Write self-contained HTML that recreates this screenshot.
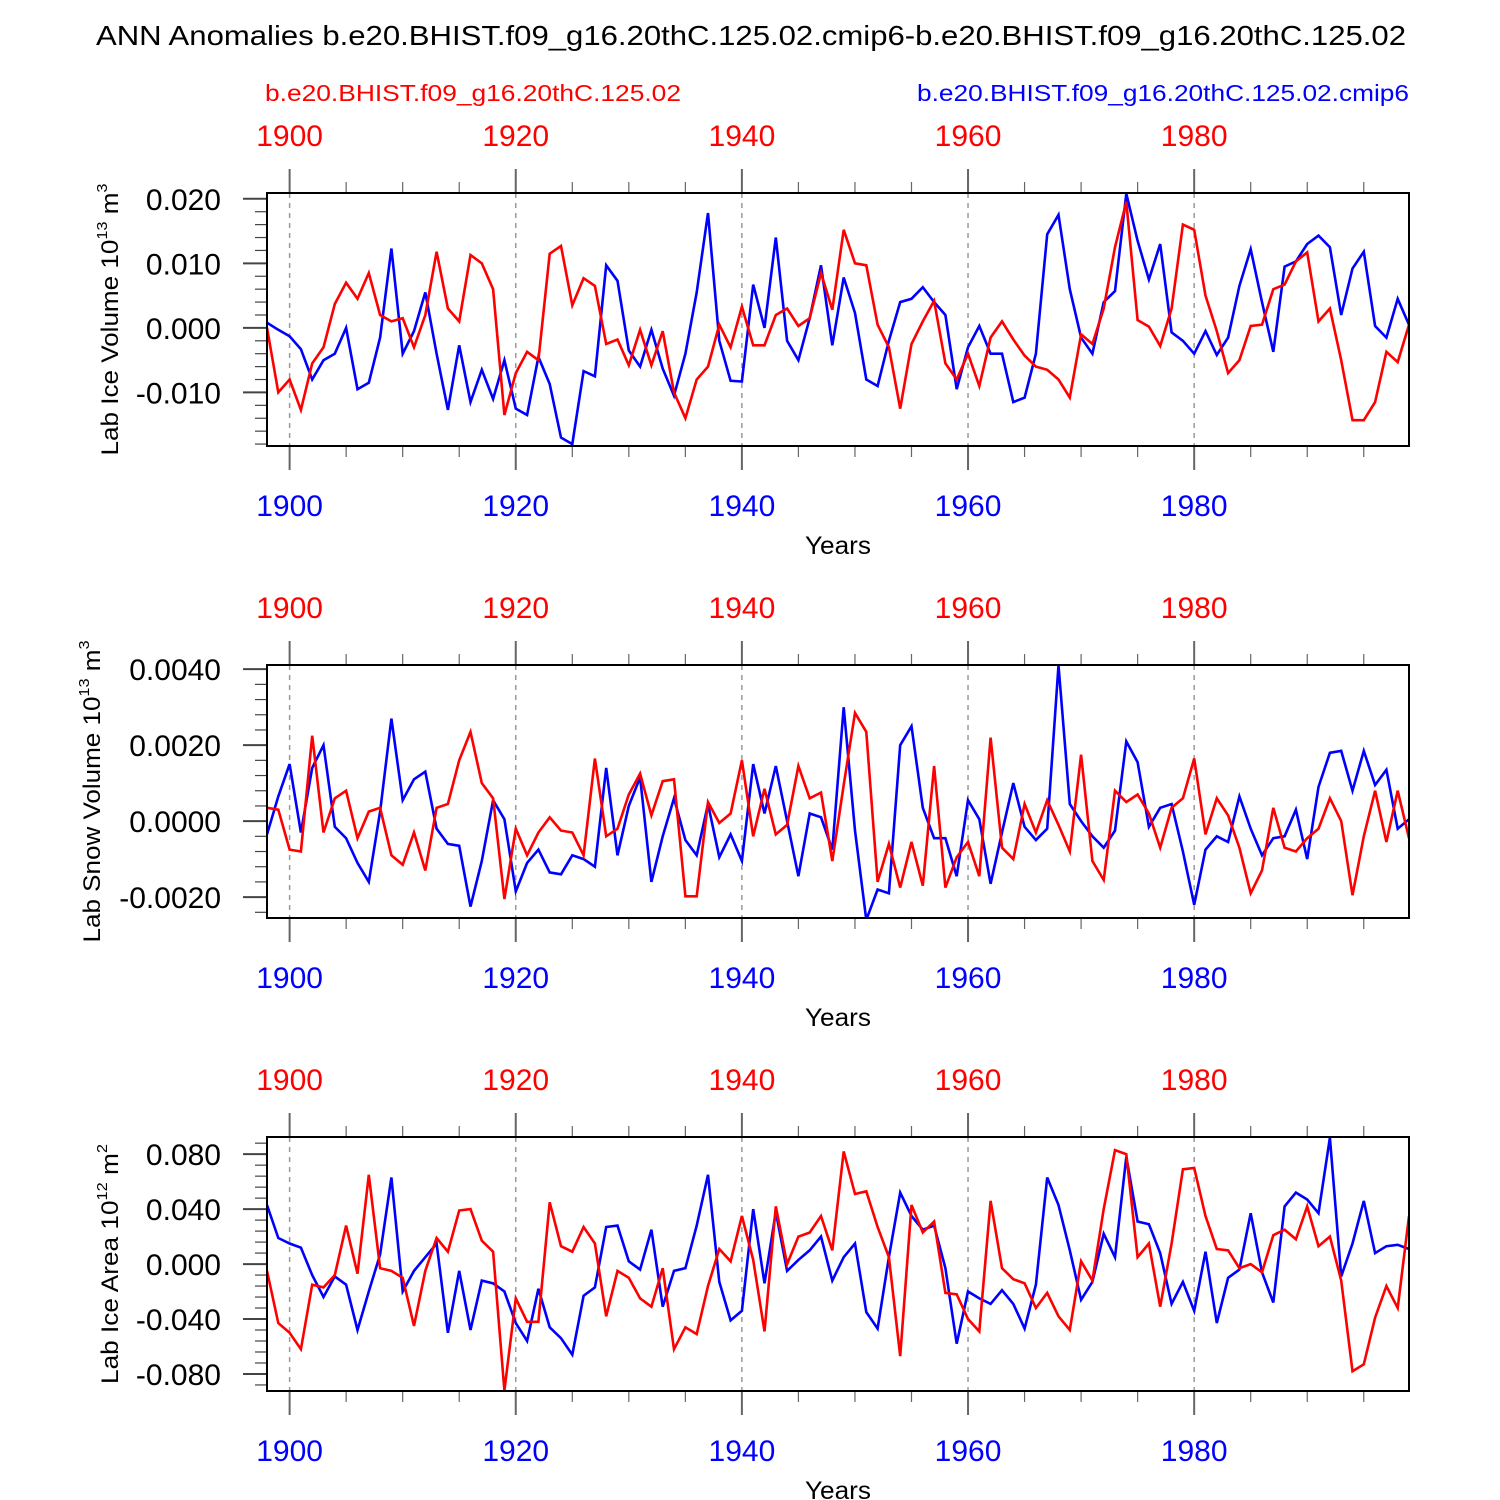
<!DOCTYPE html>
<html><head><meta charset="utf-8"><style>
html,body{margin:0;padding:0;background:#fff;}
svg{display:block;font-family:"Liberation Sans",Arial,sans-serif;}
</style></head><body>
<svg id="chart" width="1500" height="1500" viewBox="0 0 1500 1500" xmlns="http://www.w3.org/2000/svg">
<text x="96" y="45" font-size="28" textLength="1310" lengthAdjust="spacingAndGlyphs">ANN Anomalies b.e20.BHIST.f09_g16.20thC.125.02.cmip6-b.e20.BHIST.f09_g16.20thC.125.02</text>
<text x="265" y="101" font-size="23" fill="#ff0000" textLength="416" lengthAdjust="spacingAndGlyphs">b.e20.BHIST.f09_g16.20thC.125.02</text>
<text x="917" y="101" font-size="23" fill="#0000ff" textLength="492" lengthAdjust="spacingAndGlyphs">b.e20.BHIST.f09_g16.20thC.125.02.cmip6</text>
</svg>
<script>
const startYear = 1898;
const xTickYears = [1900, 1920, 1940, 1960, 1980];

const iceVolRed = [0.000,-0.010,-0.008,-0.0127,-0.0055,-0.003,0.0037,0.007,0.0045,0.0085,0.002,0.001,0.0015,-0.003,0.002,0.0118,0.003,0.001,0.0113,0.010,0.006,-0.0135,-0.007,-0.0037,-0.005,0.0115,0.0127,0.0035,0.0077,0.0065,-0.0025,-0.0018,-0.0058,-0.0003,-0.0058,-0.0005,-0.010,-0.014,-0.008,-0.006,0.0005,-0.003,0.0033,-0.0027,-0.0027,0.002,0.003,0.0003,0.0015,0.0085,0.0028,0.0152,0.010,0.0097,0.0005,-0.003,-0.0125,-0.0025,0.001,0.0042,-0.0055,-0.008,-0.004,-0.009,-0.0015,0.001,-0.0018,-0.0043,-0.006,-0.0065,-0.008,-0.0108,-0.001,-0.0025,0.003,0.0125,0.0195,0.0012,0.0002,-0.0028,0.003,0.016,0.0152,0.005,-0.0005,-0.007,-0.005,0.0003,0.0005,0.006,0.0067,0.0103,0.0117,0.001,0.003,-0.005,-0.0143,-0.0143,-0.0115,-0.0037,-0.0053,0.0005];
const iceVolBlue = [0.0008,-0.0003,-0.0013,-0.0033,-0.008,-0.005,-0.004,0.0,-0.0095,-0.0085,-0.0015,0.0123,-0.004,-0.0005,0.0055,-0.004,-0.0127,-0.0027,-0.0115,-0.0065,-0.011,-0.005,-0.0125,-0.0135,-0.0045,-0.0087,-0.017,-0.018,-0.0067,-0.0075,0.0097,0.0073,-0.0035,-0.006,-0.0003,-0.0063,-0.0105,-0.004,0.0055,0.0178,-0.002,-0.0082,-0.0083,0.0067,0.0,0.014,-0.002,-0.005,0.0015,0.0097,-0.0027,0.0078,0.0023,-0.008,-0.009,-0.002,0.004,0.0045,0.0063,0.004,0.002,-0.0095,-0.003,0.0003,-0.004,-0.004,-0.0115,-0.0108,-0.004,0.0145,0.0175,0.006,-0.0015,-0.004,0.004,0.0057,0.0208,0.0135,0.0075,0.013,-0.0007,-0.002,-0.004,-0.0005,-0.0042,-0.0015,0.0065,0.0122,0.004,-0.0037,0.0095,0.0103,0.013,0.0143,0.0125,0.002,0.0092,0.0118,0.0003,-0.0015,0.0045,0.0005];

const snowRedK = [0.35,0.3,-0.75,-0.8,2.25,-0.3,0.6,0.8,-0.45,0.25,0.35,-0.9,-1.15,-0.3,-1.3,0.35,0.45,1.6,2.35,1.0,0.6,-2.05,-0.2,-0.9,-0.3,0.1,-0.25,-0.3,-0.9,1.65,-0.4,-0.2,0.7,1.25,0.15,1.05,1.1,-1.98,-1.98,0.5,-0.05,0.2,1.6,-0.4,0.85,-0.35,-0.1,1.45,0.6,0.75,-1.05,0.95,2.85,2.35,-1.6,-0.6,-1.75,-0.55,-1.7,1.45,-1.75,-0.95,-0.55,-1.45,2.2,-0.7,-1.0,0.45,-0.3,0.55,-0.1,-0.8,1.75,-1.05,-1.55,0.8,0.5,0.7,0.2,-0.7,0.35,0.6,1.65,-0.35,0.6,0.15,-0.7,-1.9,-1.3,0.35,-0.7,-0.8,-0.45,-0.2,0.6,0.0,-1.95,-0.4,0.8,-0.55,0.8,-0.45];
const snowBlueK = [-0.35,0.65,1.5,-0.3,1.4,2.0,-0.15,-0.45,-1.1,-1.6,0.25,2.7,0.55,1.1,1.3,-0.2,-0.6,-0.65,-2.25,-1.05,0.55,0.05,-1.85,-1.1,-0.75,-1.35,-1.4,-0.9,-1.0,-1.2,1.4,-0.9,0.4,1.15,-1.6,-0.4,0.6,-0.5,-0.9,0.45,-0.95,-0.35,-1.05,1.5,0.2,1.45,0.0,-1.45,0.2,0.1,-0.75,3.0,-0.25,-2.6,-1.8,-1.9,2.0,2.5,0.35,-0.45,-0.45,-1.45,0.55,0.05,-1.65,-0.3,1.0,-0.15,-0.5,-0.2,4.1,0.45,0.0,-0.4,-0.7,-0.25,2.1,1.55,-0.15,0.35,0.45,-0.8,-2.2,-0.75,-0.4,-0.55,0.65,-0.2,-0.9,-0.45,-0.4,0.3,-1.0,0.9,1.8,1.85,0.8,1.85,0.95,1.35,-0.2,0.05];

const areaRed = [-0.005,-0.043,-0.05,-0.062,-0.015,-0.017,-0.008,0.028,-0.007,0.065,-0.003,-0.005,-0.01,-0.045,-0.005,0.019,0.009,0.039,0.04,0.017,0.009,-0.092,-0.025,-0.042,-0.042,0.045,0.013,0.009,0.027,0.015,-0.038,-0.005,-0.01,-0.025,-0.031,-0.003,-0.062,-0.046,-0.051,-0.016,0.011,0.002,0.035,0.003,-0.049,0.042,0.0,0.02,0.023,0.035,0.01,0.082,0.051,0.053,0.027,0.005,-0.067,0.043,0.023,0.031,-0.021,-0.022,-0.04,-0.049,0.046,-0.003,-0.011,-0.014,-0.032,-0.021,-0.038,-0.048,0.002,-0.012,0.04,0.083,0.08,0.005,0.015,-0.031,0.015,0.069,0.07,0.035,0.011,0.01,-0.003,0.0,-0.006,0.021,0.025,0.018,0.042,0.013,0.02,-0.012,-0.078,-0.073,-0.039,-0.016,-0.032,0.035];
const areaBlue = [0.043,0.019,0.015,0.012,-0.008,-0.024,-0.009,-0.015,-0.048,-0.02,0.007,0.063,-0.02,-0.005,0.005,0.015,-0.05,-0.005,-0.048,-0.012,-0.014,-0.02,-0.043,-0.056,-0.018,-0.046,-0.054,-0.066,-0.023,-0.017,0.027,0.028,0.002,-0.004,0.025,-0.031,-0.005,-0.003,0.028,0.065,-0.013,-0.041,-0.034,0.04,-0.014,0.038,-0.005,0.003,0.01,0.02,-0.012,0.005,0.015,-0.035,-0.047,0.005,0.052,0.035,0.025,0.028,-0.003,-0.058,-0.02,-0.025,-0.029,-0.019,-0.029,-0.047,-0.015,0.063,0.043,0.01,-0.026,-0.013,0.022,0.005,0.078,0.031,0.029,0.008,-0.029,-0.013,-0.034,0.009,-0.043,-0.01,-0.004,0.037,-0.006,-0.028,0.042,0.052,0.047,0.037,0.092,-0.009,0.015,0.046,0.008,0.013,0.014,0.011];

const iceTicks = ["0.020","0.010","0.000","-0.010"];
const snowTicks = ["0.0040","0.0020","0.0000","-0.0020"];
const areaTicks = ["0.080","0.040","0.000","-0.040","-0.080"];

const NS = "http://www.w3.org/2000/svg";
const svg = document.getElementById("chart");
function mk(tag, attrs, parent) {
  const e = document.createElementNS(NS, tag);
  for (const k in attrs) e.setAttribute(k, attrs[k]);
  (parent || svg).appendChild(e);
  return e;
}
const X0 = 267, X1 = 1409, Y_START = 1898, Y_END = 1999;
function xScale(yr) { return X0 + (yr - Y_START) * (X1 - X0) / (Y_END - Y_START); }

const panels = [
  {name:"ice-volume", top:193, bot:446, vmax:0.0209, vmin:-0.0183, ticks:iceTicks, minor:0.002, scale:1, red:iceVolRed, blue:iceVolBlue,
   title:["Lab Ice Volume 10","13"," m","3"], tx:118, tlen:272},
  {name:"snow-volume", top:665, bot:918, vmax:0.00411, vmin:-0.00255, ticks:snowTicks, minor:0.0004, scale:0.001, red:snowRedK, blue:snowBlueK,
   title:["Lab Snow Volume 10","13"," m","3"], tx:100, tlen:302},
  {name:"ice-area", top:1137, bot:1391, vmax:0.0925, vmin:-0.0924, ticks:areaTicks, minor:0.008, scale:1, red:areaRed, blue:areaBlue,
   title:["Lab Ice Area 10","12"," m","2"], tx:118, tlen:240}
];

panels.forEach(p => {
  const g = mk("g", {});
  
  
  const yScale = v => p.top + (p.vmax - v) * (p.bot - p.top) / (p.vmax - p.vmin);
  xTickYears.forEach(yr => {
    const l = mk("line", {x1:xScale(yr), x2:xScale(yr), y1:p.top, y2:p.bot, stroke:"#999", "stroke-width":1.5, "stroke-dasharray":"5,5"}, g);
    
    
  });
  for (let yr = 1900; yr <= 1995; yr += 5) {
    const major = yr % 20 === 0;
    const len = major ? 24 : 11;
    mk("line", {x1:xScale(yr), x2:xScale(yr), y1:p.top - len, y2:p.top, stroke:"#666", "stroke-width": major?2:1.2}, g);
    mk("line", {x1:xScale(yr), x2:xScale(yr), y1:p.bot, y2:p.bot + len, stroke:"#666", "stroke-width": major?2:1.2}, g);
  }
  xTickYears.forEach(yr => {
    const t1 = mk("text", {x:xScale(yr), y:p.top - 47, "text-anchor":"middle", "font-size":30, fill:"#ff0000"}, g);
    t1.textContent = yr;
    
    
    const t2 = mk("text", {x:xScale(yr), y:p.bot + 70, "text-anchor":"middle", "font-size":30, fill:"#0000ff"}, g);
    t2.textContent = yr;
    
    
  });
  const xt = mk("text", {x:805, y:p.bot + 108, "font-size":25, textLength:66, lengthAdjust:"spacingAndGlyphs"}, g);
  xt.textContent = "Years";
  
  
  const step = p.minor;
  const n0 = Math.ceil(p.vmin / step - 1e-6), n1 = Math.floor(p.vmax / step + 1e-6);
  for (let k = n0; k <= n1; k++) {
    const v = k * step;
    const major = k % 5 === 0;
    const y = yScale(v);
    mk("line", {x1:X0 - (major?24:12), x2:X0, y1:y, y2:y, stroke:"#444", "stroke-width": major?2:1.2}, g);
  }
  p.ticks.forEach(s => {
    const v = parseFloat(s);
    const t = mk("text", {x:X0 - 46, y:yScale(v) + 11, "text-anchor":"end", "font-size":30}, g);
    t.textContent = s;
    
    
  });
  const cy = (p.top + p.bot) / 2;
  const yt = mk("text", {x:-p.tlen/2, y:0, "font-size":24, textLength:p.tlen, lengthAdjust:"spacingAndGlyphs", transform:`translate(${p.tx},${cy}) rotate(-90)`}, g);
  
  
  p.title.forEach((s, i) => {
    const ts = mk("tspan", {}, yt);
    if (i % 2 === 1) { ts.setAttribute("font-size", 15); ts.setAttribute("dy", -11); }
    else if (i > 0) { ts.setAttribute("dy", 11); }
    ts.textContent = s;
  });
  const cid = "clip-" + p.name;
  const cp = mk("clipPath", {id:cid}, g);
  mk("rect", {x:X0, y:p.top, width:X1 - X0, height:p.bot - p.top}, cp);
  [["blue", p.blue, "#0000ff"], ["red", p.red, "#ff0000"]].forEach(([nm, arr, col]) => {
    const pts = arr.map((v, i) => xScale(startYear + i).toFixed(1) + "," + yScale(v * p.scale).toFixed(1)).join(" ");
    const pl = mk("polyline", {points:pts, fill:"none", stroke:col, "stroke-width":2.6, "stroke-linejoin":"miter", "clip-path":`url(#${cid})`}, g);
    
    
  });
  const box = mk("rect", {x:X0, y:p.top, width:X1 - X0, height:p.bot - p.top, fill:"none", stroke:"#000", "stroke-width":2}, g);
  
  
});
</script>
</body></html>
